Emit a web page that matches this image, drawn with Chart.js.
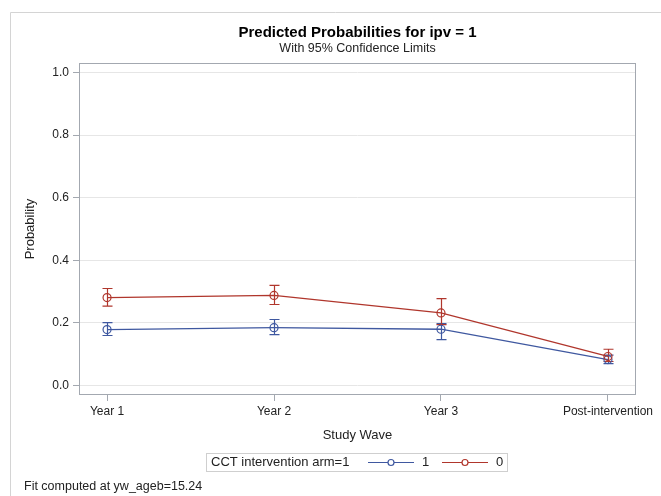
<!DOCTYPE html>
<html>
<head>
<meta charset="utf-8">
<script src="https://cdn.jsdelivr.net/npm/chart.js@4/dist/chart.umd.min.js"></script>
<style>
  html, body { margin: 0; padding: 0; background: #fff; }
  #wrap { width: 661px; height: 496px; position: relative; }
</style>
</head>
<body>
<div id="wrap"><canvas id="probChart" width="661" height="496"></canvas></div>
<script>
const waves = ['Year 1', 'Year 2', 'Year 3', 'Post-intervention'];
const yTicks = [0, 0.2, 0.4, 0.6, 0.8, 1.0];

// CCT intervention arm = 1
const arm1Prob  = [0.179, 0.185, 0.180, 0.083];
const arm1Lower = [0.160, 0.163, 0.147, 0.070];
const arm1Upper = [0.201, 0.211, 0.198, 0.097];

// CCT intervention arm = 0
const arm0Prob  = [0.281, 0.288, 0.232, 0.093];
const arm0Lower = [0.254, 0.259, 0.195, 0.077];
const arm0Upper = [0.310, 0.320, 0.278, 0.116];

const blue = '#3f58a0';
const red = '#b0362c';
const font = '"Liberation Sans", Arial, sans-serif';

function toPoints(vals) {
  return vals.map((v, i) => ({ x: i, y: v }));
}

// error bars with caps, drawn under the lines/markers
const errorBars = {
  id: 'errorBars',
  beforeDatasetsDraw(chart) {
    const ctx = chart.ctx;
    const xs = chart.scales.x, ys = chart.scales.y;
    chart.data.datasets.forEach(ds => {
      ctx.save();
      ctx.strokeStyle = ds.borderColor;
      ctx.lineWidth = 1.2;
      ds.lower.forEach((lo, i) => {
        const x = Math.round(xs.getPixelForValue(i)) + 0.5;
        const y1 = ys.getPixelForValue(lo);
        const y2 = ys.getPixelForValue(ds.upper[i]);
        ctx.beginPath();
        ctx.moveTo(x, y1); ctx.lineTo(x, y2);
        ctx.moveTo(x - 5, y1); ctx.lineTo(x + 5, y1);
        ctx.moveTo(x - 5, y2); ctx.lineTo(x + 5, y2);
        ctx.stroke();
      });
      ctx.restore();
    });
  }
};

// frame, plot box, titles, legend and footnote
const decorations = {
  id: 'decorations',
  beforeDraw(chart) {
    const ctx = chart.ctx;
    ctx.save();
    ctx.fillStyle = '#fff';
    ctx.fillRect(0, 0, chart.width, chart.height);
    ctx.strokeStyle = '#d4d4d4';
    ctx.lineWidth = 1;
    ctx.beginPath();
    ctx.moveTo(10.5, chart.height);
    ctx.lineTo(10.5, 12.5);
    ctx.lineTo(chart.width, 12.5);
    ctx.stroke();
    ctx.restore();
  },
  afterDraw(chart) {
    const ctx = chart.ctx;
    const a = chart.chartArea;
    const cx = (a.left + a.right) / 2;
    ctx.save();
    ctx.strokeStyle = '#a3a8b0';
    ctx.lineWidth = 1;
    ctx.strokeRect(Math.round(a.left) + 0.5, Math.round(a.top) + 0.5,
      Math.round(a.right - a.left) - 1, Math.round(a.bottom - a.top) - 1);

    ctx.textAlign = 'center';
    ctx.textBaseline = 'middle';
    ctx.fillStyle = '#000';
    ctx.font = 'bold 15px ' + font;
    ctx.fillText('Predicted Probabilities for ipv = 1', cx, 33);
    ctx.fillStyle = '#222';
    ctx.font = '12.5px ' + font;
    ctx.fillText('With 95% Confidence Limits', cx, 48.5);

    ctx.font = '13px ' + font;
    ctx.fillText('Study Wave', cx, 435);
    ctx.save();
    ctx.translate(30, (a.top + a.bottom) / 2);
    ctx.rotate(-Math.PI / 2);
    ctx.fillText('Probability', 0, 0);
    ctx.restore();

    // legend
    ctx.strokeStyle = '#cfcfcf';
    ctx.strokeRect(206.5, 453.5, 301, 18);
    ctx.textAlign = 'left';
    ctx.fillStyle = '#222';
    ctx.font = '13px ' + font;
    const ly = 462.5;
    ctx.fillText('CCT intervention arm=1', 211, ly);
    const items = [
      { color: blue, label: '1', x0: 368 },
      { color: red, label: '0', x0: 442 }
    ];
    items.forEach(it => {
      ctx.strokeStyle = it.color;
      ctx.lineWidth = 1.2;
      ctx.beginPath();
      ctx.moveTo(it.x0, ly); ctx.lineTo(it.x0 + 46, ly);
      ctx.stroke();
      ctx.beginPath();
      ctx.fillStyle = '#fff';
      ctx.arc(it.x0 + 23, ly, 3, 0, Math.PI * 2);
      ctx.fill();
      ctx.stroke();
      ctx.fillStyle = '#222';
      ctx.fillText(it.label, it.x0 + 54, ly);
    });

    ctx.font = '12.5px ' + font;
    ctx.fillText('Fit computed at yw_ageb=15.24', 24, 487);
    ctx.restore();
  }
};

const config = {
  type: 'line',
  data: {
    datasets: [{
      label: '1',
      data: toPoints(arm1Prob),
      lower: arm1Lower,
      upper: arm1Upper,
      borderColor: blue,
      backgroundColor: 'rgba(255,255,255,0)',
      borderWidth: 1.3,
      pointRadius: 4,
      pointBorderWidth: 1.2,
      pointBackgroundColor: 'rgba(255,255,255,0)',
      order: 1
    }, {
      label: '0',
      data: toPoints(arm0Prob),
      lower: arm0Lower,
      upper: arm0Upper,
      borderColor: red,
      backgroundColor: 'rgba(255,255,255,0)',
      borderWidth: 1.3,
      pointRadius: 4,
      pointBorderWidth: 1.2,
      pointBackgroundColor: 'rgba(255,255,255,0)',
      order: 0
    }]
  },
  options: {
    responsive: false,
    animation: false,
    events: [],
    layout: { padding: { left: 0, top: 63, right: 25, bottom: 71 } },
    plugins: {
      legend: { display: false },
      tooltip: { enabled: false }
    },
    scales: {
      x: {
        type: 'linear',
        min: -0.168,
        max: 3.168,
        afterBuildTicks: s => { s.ticks = waves.map((_, i) => ({ value: i })); },
        afterFit: s => { s.height = 30; },
        border: { display: false },
        grid: { drawOnChartArea: false, tickLength: 6, tickColor: '#a3a8b0' },
        ticks: {
          padding: 3,
          color: '#222',
          font: { family: font, size: 12 },
          maxRotation: 0,
          callback: v => waves[v]
        }
      },
      y: {
        min: -0.03,
        max: 1.03,
        afterBuildTicks: s => { s.ticks = yTicks.map(v => ({ value: v })); },
        afterFit: s => { s.width = 79; },
        border: { display: false },
        grid: { color: '#e6e6e6', tickLength: 6, tickColor: '#a3a8b0' },
        ticks: {
          padding: 4,
          color: '#222',
          font: { family: font, size: 12 },
          callback: v => v.toFixed(1)
        }
      }
    }
  },
  plugins: [errorBars, decorations]
};

const probChart = new Chart(document.getElementById('probChart'), config);
</script>
</body>
</html>
